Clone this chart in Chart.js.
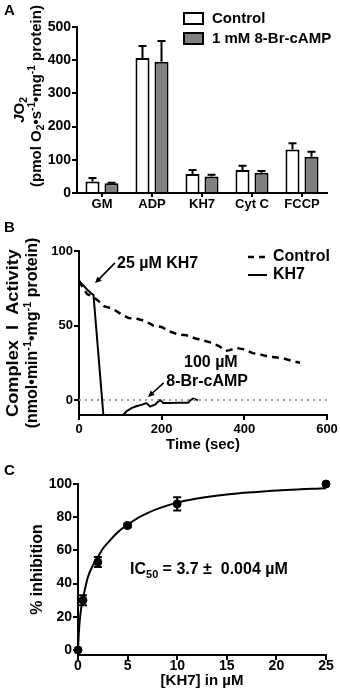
<!DOCTYPE html>
<html><head><meta charset="utf-8">
<script src="https://cdn.jsdelivr.net/npm/chart.js@4/dist/chart.umd.min.js"></script>
<style>
html,body{margin:0;padding:0;background:#fff;}
body{width:340px;height:693px;position:relative;overflow:hidden;font-family:"Liberation Sans",Arial,sans-serif;}
canvas{position:absolute;left:0;}
</style></head><body>
<canvas id="cA" width="340" height="216" style="top:0px"></canvas>
<canvas id="cB" width="340" height="244" style="top:216px"></canvas>
<canvas id="cC" width="340" height="233" style="top:460px"></canvas>
<script>
// ---------- Panel A data ----------
const categoriesA = ['GM', 'ADP', 'KH7', 'Cyt C', 'FCCP'];
const controlA = [35, 407, 57, 69, 131];
const controlErrA = [10, 36, 12, 13, 19];
const campA = [29, 395, 50, 61, 109];
const campErrA = [2, 63, 5, 5, 15];
const ticksAY = [0, 100, 200, 300, 400, 500];
const seriesNamesA = ['Control', '1 mM 8-Br-cAMP'];

// ---------- Panel B data ----------
const controlTimeB = [0, 10, 20, 30, 45, 60, 80, 100, 120, 140, 160, 180, 200, 220, 240, 260, 280, 300, 320, 340, 355, 365, 380, 400, 420, 440, 460, 480, 500, 520, 535];
const controlActB  = [80, 75, 71, 70, 67, 63, 61.5, 58, 55, 54.5, 53, 50, 49, 46, 44, 43.5, 41.5, 40, 38.5, 36, 33, 33.5, 35, 34, 31.5, 30.5, 29, 28.5, 27.5, 26, 25];
const kh7TimeB = [0, 10, 20, 28, 35, 59, 80, 107, 115, 127, 140, 151, 163, 172, 184, 196, 204, 220, 240, 264, 270, 276, 282, 288];
const kh7ActB  = [80, 77, 74, 72, 70.5, -10, null, -10, -7.5, -5.4, -4, -3.2, -2, -4.3, -3, 0, -2, -2, -1.8, -1.8, 0, 1, 0.5, 0];
const zeroLineTimeB = [0, 600];
const zeroLineValB = [0, 0];
const ticksBX = [0, 200, 400, 600];
const ticksBY = [0, 50, 100];
const seriesNamesB = ['Control', 'KH7'];

// ---------- Panel C data ----------
const kh7ConcC = [0, 0.5, 2, 5, 10, 25];
const inhibitionC = [0, 30, 53, 75, 88, 100];
const inhibitionErrC = [0, 3, 3, 1, 4, 0];
const fitConcC = [0, 0.1, 0.25, 0.5, 0.75, 1, 1.5, 2, 2.5, 3, 4, 5, 6, 7, 8, 10, 12, 15, 18, 21, 25];
const fitInhibC = [0, 12, 22, 31, 38, 44, 51, 56, 61, 64.5, 71, 75.5, 79.5, 82.5, 85, 88.8, 91.3, 93.7, 95.2, 96.4, 97.5];
const ticksCX = [0, 5, 10, 15, 20, 25];
const ticksCY = [0, 20, 40, 60, 80, 100];

// ---------- helpers ----------
const FAM = '"Liberation Sans", Arial, Helvetica, sans-serif';
Chart.defaults.font.family = FAM;
Chart.defaults.font.weight = 'bold';
Chart.defaults.color = '#000';

function fontFor(s, size) {
  const sz = (s.sub || s.sup) ? size * 0.68 : size;
  return (s.italic ? 'italic ' : '') + 'bold ' + sz + 'px ' + FAM;
}
function richWidth(ctx, segs, size) {
  let w = 0;
  segs.forEach(s => { ctx.font = fontFor(s, size); w += ctx.measureText(s.t).width; });
  return w;
}
function drawRich(ctx, segs, x, y, size, opts) {
  opts = opts || {};
  ctx.save();
  ctx.translate(x, y);
  if (opts.rotate) ctx.rotate(opts.rotate);
  const w = richWidth(ctx, segs, size);
  if (opts.width) ctx.scale(opts.width / w, 1);
  let cx = opts.align === 'left' ? 0 : -w / 2;
  ctx.textBaseline = 'middle';
  ctx.textAlign = 'left';
  ctx.fillStyle = '#000';
  segs.forEach(s => {
    ctx.font = fontFor(s, size);
    const dy = s.sub ? size * 0.3 : (s.sup ? -size * 0.33 : 0);
    ctx.fillText(s.t, cx, dy);
    cx += ctx.measureText(s.t).width;
  });
  ctx.restore();
}
function arrow(ctx, x1, y1, x2, y2) {
  const a = Math.atan2(y2 - y1, x2 - x1), h = 7;
  ctx.save();
  ctx.strokeStyle = '#000'; ctx.fillStyle = '#000'; ctx.lineWidth = 1.6;
  ctx.beginPath(); ctx.moveTo(x1, y1);
  ctx.lineTo(x2 - Math.cos(a) * h * 0.8, y2 - Math.sin(a) * h * 0.8); ctx.stroke();
  ctx.beginPath(); ctx.moveTo(x2, y2);
  ctx.lineTo(x2 - h * Math.cos(a - 0.45), y2 - h * Math.sin(a - 0.45));
  ctx.lineTo(x2 - h * Math.cos(a + 0.45), y2 - h * Math.sin(a + 0.45));
  ctx.closePath(); ctx.fill();
  ctx.restore();
}
function letter(ctx, t, x, y) {
  ctx.save(); ctx.font = 'bold 15px ' + FAM; ctx.fillStyle = '#000';
  ctx.textBaseline = 'top'; ctx.textAlign = 'left'; ctx.fillText(t, x, y); ctx.restore();
}
const axisCommon = (tickLen) => ({
  grid: { display: true, drawOnChartArea: false, tickLength: tickLen, color: '#000', lineWidth: 2 },
  border: { color: '#000', width: 2 }
});
const fixedTicks = arr => (s => { s.ticks = arr.map(v => ({ value: v })); });

// ---------- Panel A ----------
const pluginA = {
  id: 'pA',
  afterDatasetsDraw(chart) {
    const ctx = chart.ctx, y = chart.scales.y;
    chart.data.datasets.forEach((ds, di) => {
      chart.getDatasetMeta(di).data.forEach((bar, i) => {
        const yb = y.getPixelForValue(ds.data[i]);
        const yt = y.getPixelForValue(ds.data[i] + ds.errors[i]);
        ctx.save(); ctx.strokeStyle = '#000'; ctx.lineWidth = 2;
        ctx.beginPath(); ctx.moveTo(bar.x, yb); ctx.lineTo(bar.x, yt);
        ctx.moveTo(bar.x - 4, yt); ctx.lineTo(bar.x + 4, yt); ctx.stroke(); ctx.restore();
      });
    });
  },
  afterDraw(chart) {
    const ctx = chart.ctx;
    letter(ctx, 'A', 4, 3);
    chart.data.datasets.forEach((ds, i) => {
      const yy = 13 + i * 20;
      ctx.save();
      ctx.fillStyle = ds.backgroundColor; ctx.strokeStyle = '#000'; ctx.lineWidth = 2;
      ctx.fillRect(184, yy, 19, 11); ctx.strokeRect(184, yy, 19, 11);
      ctx.font = 'bold 15px ' + FAM; ctx.fillStyle = '#000'; ctx.textBaseline = 'middle';
      ctx.fillText(ds.label, 212, yy + 6);
      ctx.restore();
    });
    drawRich(ctx, [{ t: 'J', italic: true }, { t: 'O' }, { t: '2', sub: true }], 20, 110, 15, { rotate: -Math.PI / 2 });
    drawRich(ctx, [{ t: '(pmol O' }, { t: '2', sub: true }, { t: '\u2022s' }, { t: '-1', sup: true },
      { t: '\u2022mg' }, { t: '-1', sup: true }, { t: ' protein)' }], 37, 96, 15, { rotate: -Math.PI / 2 });
  }
};
new Chart(document.getElementById('cA'), {
  type: 'bar',
  data: {
    labels: categoriesA,
    datasets: [
      { label: seriesNamesA[0], data: controlA, errors: controlErrA, backgroundColor: '#ffffff', borderColor: '#000', borderWidth: 2 },
      { label: seriesNamesA[1], data: campA, errors: campErrA, backgroundColor: '#808080', borderColor: '#000', borderWidth: 2 }
    ]
  },
  options: {
    responsive: false, animation: false,
    categoryPercentage: 0.76, barPercentage: 0.74,
    layout: { padding: { top: 27, right: 13, left: 0, bottom: 0 } },
    plugins: { legend: { display: false }, tooltip: { enabled: false } },
    scales: {
      x: Object.assign(axisCommon(4), {
        grid: { display: true, drawOnChartArea: false, offset: false, tickLength: 4, color: '#000', lineWidth: 2 },
        ticks: { font: { size: 13, weight: 'bold' }, color: '#000', padding: 0 },
        afterFit(s) { s.height = 23; }
      }),
      y: Object.assign(axisCommon(5), {
        min: 0, max: 500, afterBuildTicks: fixedTicks(ticksAY),
        ticks: { font: { size: 14, weight: 'bold' }, color: '#000', padding: 1 },
        afterFit(s) { s.width = 77; }
      })
    }
  },
  plugins: [pluginA]
});

// ---------- Panel B ----------
const toXY = (xs, ys) => xs.map((x, i) => ({ x: x, y: ys[i] }));
const pluginB = {
  id: 'pB',
  afterDraw(chart) {
    const ctx = chart.ctx, X = chart.scales.x, Y = chart.scales.y;
    letter(ctx, 'B', 4, 4);
    ctx.save();
    ctx.strokeStyle = '#000'; ctx.lineWidth = 2.5;
    ctx.setLineDash([6, 5]);
    ctx.beginPath(); ctx.moveTo(248, 41); ctx.lineTo(267, 41); ctx.stroke();
    ctx.setLineDash([]); ctx.lineWidth = 2;
    ctx.beginPath(); ctx.moveTo(248, 59); ctx.lineTo(267, 59); ctx.stroke();
    ctx.font = 'bold 16px ' + FAM; ctx.fillStyle = '#000'; ctx.textBaseline = 'middle';
    ctx.fillText(seriesNamesB[0], 273, 41);
    ctx.fillText(seriesNamesB[1], 273, 59);
    ctx.restore();
    const px = (t, v) => [X.getPixelForValue(t), Y.getPixelForValue(v)];
    let a = px(87, 92), b = px(39, 78.5);
    arrow(ctx, a[0], a[1], b[0], b[1]);
    let p = px(92, 91.7);
    drawRich(ctx, [{ t: '25 \u00b5M KH7' }], p[0], p[1], 16, { align: 'left' });
    p = px(319, 25);
    drawRich(ctx, [{ t: '100 \u00b5M' }], p[0], p[1], 16);
    p = px(310, 12.3);
    drawRich(ctx, [{ t: '8-Br-cAMP' }], p[0], p[1], 16);
    a = px(205, 11.5); b = px(167, 2.1);
    arrow(ctx, a[0], a[1], b[0], b[1]);
    drawRich(ctx, [{ t: 'Complex  I  Activity' }], 14, 117, 16, { rotate: -Math.PI / 2, width: 168 });
    drawRich(ctx, [{ t: '(nmol\u2022min' }, { t: '-1', sup: true }, { t: '\u2022mg' }, { t: '-1', sup: true }, { t: ' protein)' }],
      33, 117, 16, { rotate: -Math.PI / 2 });
  }
};
new Chart(document.getElementById('cB'), {
  type: 'line',
  data: {
    datasets: [
      { label: 'zero', data: toXY(zeroLineTimeB, zeroLineValB), borderColor: '#a0a0a0', borderWidth: 2, borderDash: [2, 4], pointRadius: 0 },
      { label: seriesNamesB[0], data: toXY(controlTimeB, controlActB), borderColor: '#000', borderWidth: 2.5, borderDash: [7, 5], pointRadius: 0, tension: 0 },
      { label: seriesNamesB[1], data: toXY(kh7TimeB, kh7ActB), borderColor: '#000', borderWidth: 2, pointRadius: 0, tension: 0, spanGaps: false }
    ]
  },
  options: {
    responsive: false, animation: false,
    layout: { padding: { top: 35, right: 13, left: 0, bottom: 0 } },
    plugins: { legend: { display: false }, tooltip: { enabled: false } },
    scales: {
      x: Object.assign(axisCommon(5), {
        type: 'linear', min: 0, max: 600, afterBuildTicks: fixedTicks(ticksBX),
        ticks: { font: { size: 13, weight: 'bold' }, color: '#000', padding: 2 },
        title: { display: true, text: 'Time (sec)', font: { size: 15, weight: 'bold' }, color: '#000', padding: { top: 0, bottom: 6 } },
        afterFit(s) { s.height = 45; }
      }),
      y: Object.assign(axisCommon(5), {
        min: -10, max: 100, afterBuildTicks: fixedTicks(ticksBY),
        ticks: { font: { size: 13, weight: 'bold' }, color: '#000', padding: 1 },
        afterFit(s) { s.width = 79; }
      })
    }
  },
  plugins: [pluginB]
});

// ---------- Panel C ----------
const pluginC = {
  id: 'pC',
  afterDatasetsDraw(chart) {
    const ctx = chart.ctx, X = chart.scales.x, Y = chart.scales.y;
    ctx.save(); ctx.strokeStyle = '#000'; ctx.lineWidth = 2;
    kh7ConcC.forEach((c, i) => {
      const e = inhibitionErrC[i];
      if (!e) return;
      const x = X.getPixelForValue(c), y1 = Y.getPixelForValue(inhibitionC[i] - e), y2 = Y.getPixelForValue(inhibitionC[i] + e);
      ctx.beginPath(); ctx.moveTo(x, y1); ctx.lineTo(x, y2);
      ctx.moveTo(x - 4, y1); ctx.lineTo(x + 4, y1);
      ctx.moveTo(x - 4, y2); ctx.lineTo(x + 4, y2); ctx.stroke();
    });
    ctx.restore();
  },
  afterDraw(chart) {
    const ctx = chart.ctx, X = chart.scales.x, Y = chart.scales.y;
    letter(ctx, 'C', 4, 3);
    drawRich(ctx, [{ t: 'IC' }, { t: '50', sub: true }, { t: ' = 3.7 \u00b1  0.004 \u00b5M' }],
      X.getPixelForValue(13.2), Y.getPixelForValue(48.3), 16);
  }
};
new Chart(document.getElementById('cC'), {
  type: 'line',
  data: {
    datasets: [
      { label: 'fit', data: toXY(fitConcC, fitInhibC), borderColor: '#000', borderWidth: 2, pointRadius: 0, tension: 0.3, cubicInterpolationMode: 'monotone' },
      { label: 'data', data: toXY(kh7ConcC, inhibitionC), showLine: false, pointRadius: 4, pointBackgroundColor: '#000', pointBorderColor: '#000', clip: false }
    ]
  },
  options: {
    responsive: false, animation: false,
    layout: { padding: { top: 24, right: 14, left: 0, bottom: 0 } },
    plugins: { legend: { display: false }, tooltip: { enabled: false } },
    scales: {
      x: Object.assign(axisCommon(5), {
        type: 'linear', min: 0, max: 25, afterBuildTicks: fixedTicks(ticksCX),
        ticks: { font: { size: 14, weight: 'bold' }, color: '#000', padding: -2 },
        title: { display: true, text: '[KH7] in \u00b5M', font: { size: 15, weight: 'bold' }, color: '#000', padding: { top: 0, bottom: 3 } },
        afterFit(s) { s.height = 38; }
      }),
      y: Object.assign(axisCommon(5), {
        min: -3, max: 100, afterBuildTicks: fixedTicks(ticksCY),
        ticks: { font: { size: 14, weight: 'bold' }, color: '#000', padding: 1 },
        title: { display: true, text: '% inhibition', font: { size: 16, weight: 'bold' }, color: '#000', padding: { top: 28, bottom: 0 } },
        afterFit(s) { s.width = 78; }
      })
    }
  },
  plugins: [pluginC]
});
</script>
</body></html>
